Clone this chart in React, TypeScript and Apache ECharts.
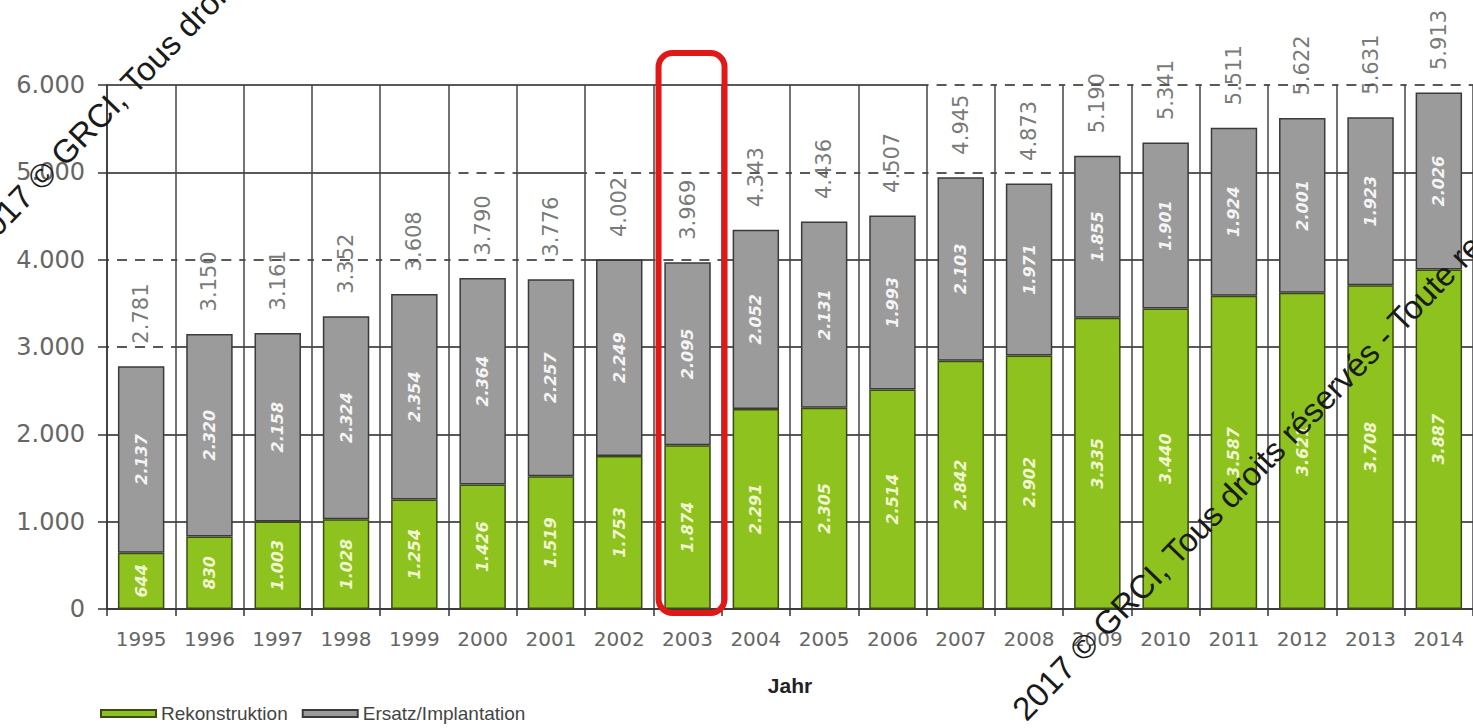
import React, { useEffect, useRef } from "react";
import * as echarts from "echarts";

// Implant procedures per year, split by type
const years = [
  "1995", "1996", "1997", "1998", "1999", "2000", "2001", "2002", "2003", "2004",
  "2005", "2006", "2007", "2008", "2009", "2010", "2011", "2012", "2013", "2014",
];
const rekonstruktion = [
  644, 830, 1003, 1028, 1254, 1426, 1519, 1753, 1874, 2291,
  2305, 2514, 2842, 2902, 3335, 3440, 3587, 3621, 3708, 3887,
];
const ersatz = [
  2137, 2320, 2158, 2324, 2354, 2364, 2257, 2249, 2095, 2052,
  2131, 1993, 2103, 1971, 1855, 1901, 1924, 2001, 1923, 2026,
];
const totals = [
  2781, 3150, 3161, 3352, 3608, 3790, 3776, 4002, 3969, 4343,
  4436, 4507, 4945, 4873, 5190, 5341, 5511, 5622, 5631, 5913,
];
const highlightYear = "2003";
const seriesNames = ["Rekonstruktion", "Ersatz/Implantation"];
const axisTitle = "Jahr";
const watermark = "2017 © GRCI, Tous droits réservés - Toute reproduction interdite";

const Y_MIN = 0;
const Y_MAX = 6000;
const Y_STEP = 1000;
// gridlines within this distance above a bar top are drawn dashed (label zone)
const LABEL_ZONE = 1220;

// German thousands separator: 5913 -> "5.913"
const fmt = (v: number) => String(v).replace(/\B(?=(\d{3})+(?!\d))/g, ".");

const GREEN = "#8dc21f";
const GREY = "#9b9b9b";

export default function App() {
  const ref = useRef<HTMLDivElement | null>(null);

  useEffect(() => {
    if (!ref.current) return;
    const chart = echarts.init(ref.current, undefined, { renderer: "svg" });

    const innerLabel = (color: string) => ({
      show: true,
      position: "inside" as const,
      rotate: 90,
      formatter: (p: any) => fmt(p.value),
      color,
      fontFamily: "DejaVu Sans",
      fontWeight: "bold" as const,
      fontStyle: "italic" as const,
      fontSize: 16,
    });

    chart.setOption({
      animation: false,
      backgroundColor: "#ffffff",
      grid: { left: 107, right: -6, top: 85, bottom: 119, containLabel: false },
      legend: {
        data: seriesNames,
        left: 95,
        top: 699,
        icon: "rect",
        itemWidth: 55,
        itemHeight: 7,
        itemGap: 14,
        textStyle: { fontFamily: "Liberation Sans", fontSize: 19, color: "#444" },
      },
      xAxis: {
        type: "category",
        data: years,
        boundaryGap: true,
        axisLine: { show: true, lineStyle: { color: "#333", width: 1.5 } },
        axisTick: { show: true, length: 7, interval: 0, lineStyle: { color: "#333", width: 1.5 } },
        axisLabel: {
          interval: 0,
          margin: 20,
          fontFamily: "DejaVu Sans",
          fontSize: 20,
          color: "#666",
        },
        splitLine: { show: true, interval: 0, lineStyle: { color: "#444", width: 1.5 } },
        name: axisTitle,
        nameLocation: "middle",
        nameGap: 66,
        nameTextStyle: {
          fontFamily: "Liberation Sans",
          fontWeight: "bold",
          fontSize: 21,
          color: "#222",
        },
      },
      yAxis: {
        type: "value",
        min: Y_MIN,
        max: Y_MAX,
        interval: Y_STEP,
        axisLine: { show: true, lineStyle: { color: "#333", width: 1.5 } },
        axisTick: { show: true, length: 9, lineStyle: { color: "#333", width: 1.5 } },
        axisLabel: {
          formatter: (v: number) => fmt(v),
          margin: 22,
          fontFamily: "DejaVu Sans",
          fontSize: 24,
          color: "#666",
        },
        splitLine: { show: true, lineStyle: { color: "#222", width: 1.5 } },
      },
      series: [
        {
          name: seriesNames[0],
          type: "bar",
          stack: "total",
          barWidth: "68%",
          data: rekonstruktion,
          itemStyle: { color: GREEN, borderColor: "#3c4a18", borderWidth: 1.5 },
          label: innerLabel("#f2f6d0"),
        },
        {
          name: seriesNames[1],
          type: "bar",
          stack: "total",
          barWidth: "68%",
          data: ersatz,
          itemStyle: { color: GREY, borderColor: "#3a3a3a", borderWidth: 1.5 },
          label: innerLabel("#f4f4f4"),
        },
        {
          name: "Gesamt",
          type: "scatter",
          data: totals,
          symbolSize: 1,
          itemStyle: { color: "rgba(0,0,0,0)" },
          silent: true,
          z: 5,
          label: {
            show: true,
            position: "top",
            distance: 22,
            rotate: 90,
            align: "left",
            verticalAlign: "middle",
            formatter: (p: any) => fmt(p.value),
            fontFamily: "DejaVu Sans",
            fontSize: 21,
            color: "#555",
          },
        },
      ],
    });

    // Overlays that depend on the axis scales
    const px = (i: number, v: number) =>
      chart.convertToPixel({ gridIndex: 0 }, [i, v]) as number[];
    const catW = px(1, 0)[0] - px(0, 0)[0];
    const graphics: any[] = [];

    // dashed look for gridlines crossing the total-label zone above each bar
    totals.forEach((t, i) => {
      for (let v = Y_STEP; v <= Y_MAX; v += Y_STEP) {
        if (v > t && v - t <= LABEL_ZONE) {
          const [cx, cy] = px(i, v);
          graphics.push({
            type: "line",
            z: 1,
            silent: true,
            shape: { x1: cx - catW / 2 + 2, y1: cy, x2: cx + catW / 2 - 2, y2: cy },
            style: { stroke: "#ffffff", lineWidth: 3.5, lineDash: [8, 10] },
          });
        }
      }
    });

    // red frame around the highlighted year
    const hi = years.indexOf(highlightYear);
    const [hx, yTop] = px(hi, Y_MAX);
    const yBottom = px(hi, Y_MIN)[1];
    graphics.push({
      type: "rect",
      z: 100,
      silent: true,
      shape: { x: hx - 29, y: yTop - 32, width: 66, height: yBottom - yTop + 36, r: 14 },
      style: { fill: "none", stroke: "#e01818", lineWidth: 6 },
    });

    // copyright watermark lines
    [
      { x: 1030, y: 726 },
      { x: -12, y: 255 },
    ].forEach((p) => {
      graphics.push({
        type: "text",
        z: 110,
        silent: true,
        x: p.x,
        y: p.y,
        rotation: (46 * Math.PI) / 180,
        style: {
          text: watermark,
          fill: "#1a1a1a",
          font: "33px 'Liberation Sans', Arial, sans-serif",
          textAlign: "left",
          textVerticalAlign: "bottom",
        },
      });
    });

    chart.setOption({ graphic: graphics });

    return () => chart.dispose();
  }, []);

  return (
    <div
      ref={ref}
      style={{ position: "absolute", left: 0, top: 0, width: 1473, height: 728 }}
    />
  );
}
